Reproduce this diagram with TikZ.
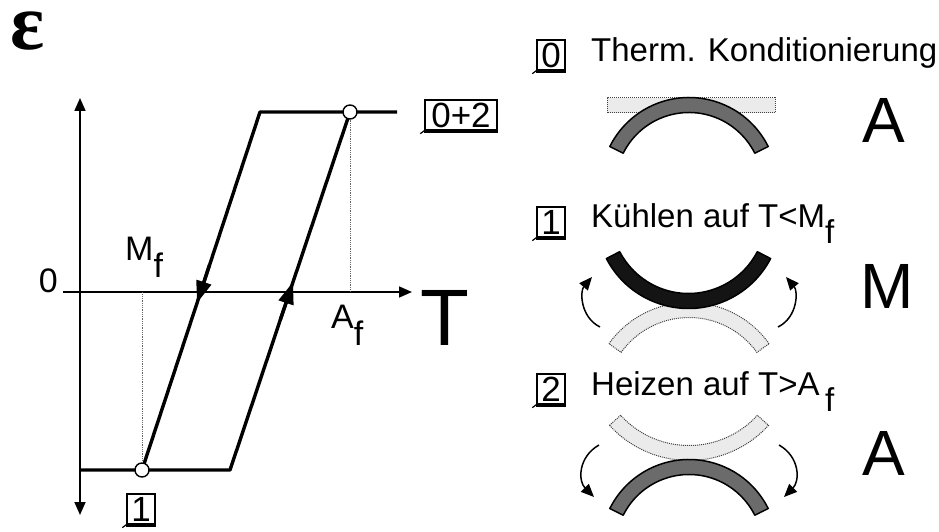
\documentclass[tikz,border=0pt]{standalone}
\usepackage{fontspec}
\setmainfont{Liberation Sans}
\newfontfamily\greekfont{Liberation Serif}
\usetikzlibrary{arrows.meta,positioning}
\newcommand{\sz}[1]{\fontsize{#1}{#1}\selectfont}
\newcommand{\lowf}{\raisebox{-0.5em}{f}}
% curved strip: style, centre, start, end, outer radius, inner radius
\newcommand{\band}[6]{\draw[#1] ([shift={(#3:#5)}]#2) arc[start angle=#3, end angle=#4, radius=#5]
  -- ([shift={(#4:#6)}]#2) arc[start angle=#4, end angle=#3, radius=#6] -- cycle;}
% thick shadow foot under a step box
\newcommand{\foot}[1]{\draw[line width=1.2pt] (#1.south west) -- ++(-4pt,-3pt);
  \draw[line width=2.4pt] ([yshift=-1.2pt]#1.south west) -- ([yshift=-1.2pt]#1.south east);}

\begin{document}
\begin{tikzpicture}[x=1pt, y=1pt,
    axis/.style={line width=1.6pt},
    curve/.style={line width=3.4pt, line join=round},
    guide/.style={densely dotted, line width=0.8pt, draw=black!60},
    pin/.style={circle, draw, fill=white, line width=1.4pt, minimum size=14pt, inner sep=0pt},
    numbox/.style={draw, fill=white, line width=1.3pt, inner sep=0pt, minimum width=28pt, minimum height=30pt, font=\sz{35}},
    lbl/.style={font=\sz{34}, inner sep=0pt},
    txt/.style={font=\sz{33}, anchor=base west, inner sep=0pt},
    big/.style={font=\sz{64}, anchor=base, inner sep=0pt},
    darkband/.style={draw=black, line width=1.5pt, fill=black!58, line join=round},
    blackband/.style={draw=black, line width=1.5pt, fill=black!92, line join=round},
    paleband/.style={draw=black!75, densely dotted, line width=1pt, fill=black!8},
    turn/.style={line width=1.5pt, -{Triangle[length=13pt,width=11pt]}},
    tip/.style={-{Triangle[length=13pt,width=11pt]}},
    flow/.style={line width=3.4pt, -{Triangle[length=22pt,width=15pt]}}]
  \useasboundingbox (0,0) rectangle (939,531);

  % axes
  \coordinate (o) at (80,239);
  \coordinate (ytop) at (80,433);
  \coordinate (ybot) at (80,16);
  \coordinate (xl) at (63,239);
  \coordinate (xr) at (412,239);
  \draw[axis, tip] (o) -- (ytop);
  \draw[axis, tip] (o) -- (ybot);
  \draw[axis, tip] (xl) -- (xr);
  \node[font=\greekfont\bfseries\sz{80}, anchor=base, inner sep=0pt] (eps) at (28,481) {ε};
  \node[lbl, anchor=base east] (zero) at (58,239) {0};
  \node[font=\sz{80}, anchor=base west, inner sep=0pt] (temp) at (420,186) {T};

  % hysteresis loop
  \coordinate (p0) at (80,61);
  \coordinate (p1) at (230,61);
  \coordinate (p2) at (350,419);
  \coordinate (tl) at (260,419);
  \coordinate (tr) at (397,419);
  \coordinate (p3) at (142,61);
  \draw[curve] (p0) -- (p1) -- (p2);
  \draw[curve] (tr) -- (tl) -- (p3);
  \coordinate (dnfrom) at (209.5,266);
  \coordinate (dnto) at (197,228);
  \coordinate (upfrom) at (280.3,211.1);
  \coordinate (upto) at (293,249);
  \draw[flow] (dnfrom) -- (dnto);
  \draw[flow] (upfrom) -- (upto);
  \node[pin] (af) at (p2) {};
  \node[pin] (mf) at (p3) {};
  \draw[guide] (af) -- (af |- o);
  \draw[guide] (mf) -- (mf |- o);
  \node[lbl, anchor=base west] (mflbl) at (125,271) {M\lowf};
  \node[lbl, anchor=base west] (aflbl) at (331,203) {A\lowf};
  \node[numbox, minimum width=72pt] (st02) at (461,416) {0+2};
  \node[numbox] (st1) at (141,22) {1};
  \foot{st02} \foot{st1}

  % steps
  \node[numbox] (s0) at (551,476) {0};
  \node[txt] (t0) at (591,469) {Therm. Konditionierung};
  \node[numbox] (s1) at (551,309) {1};
  \node[txt] (t1) at (591,304) {Kühlen auf T<M\lowf};
  \node[numbox] (s2) at (551,142) {2};
  \node[txt] (t2) at (591,136) {Heizen auf T>A\,\lowf};
  \foot{s0} \foot{s1} \foot{s2}
  \node[big] (ph0) at (884,388) {A};
  \node[big] (ph1) at (887,223) {M};
  \node[big] (ph2) at (884,56) {A};

  % strips
  \coordinate (c0) at (689,345);
  \coordinate (c1p) at (689,130);
  \coordinate (c1) at (688.5,315);
  \coordinate (c2p) at (689,178);
  \coordinate (c2) at (689,-17);
  \draw[paleband] (607,418) rectangle (775,433);
  \band{darkband}{c0}{26.5}{153.5}{88.5}{73.5}
  \band{paleband}{c1p}{35.6}{144.4}{98.5}{83.5}
  \band{blackband}{c1}{207.4}{332.6}{92.5}{77.5}
  \band{paleband}{c2p}{222.3}{317.7}{107.5}{92.5}
  \band{darkband}{c2}{26.5}{153.5}{88.5}{73.5}

  % turning arrows
  \draw[turn] (600,204) .. controls (580,214) and (580,240) .. (592,254);
  \draw[turn] (778,204) .. controls (798,214) and (798,240) .. (786,254);
  \draw[turn] (599,86) .. controls (578,74) and (578,50) .. (594,34);
  \draw[turn] (779,86) .. controls (800,74) and (800,50) .. (784,34);
\end{tikzpicture}
\end{document}
